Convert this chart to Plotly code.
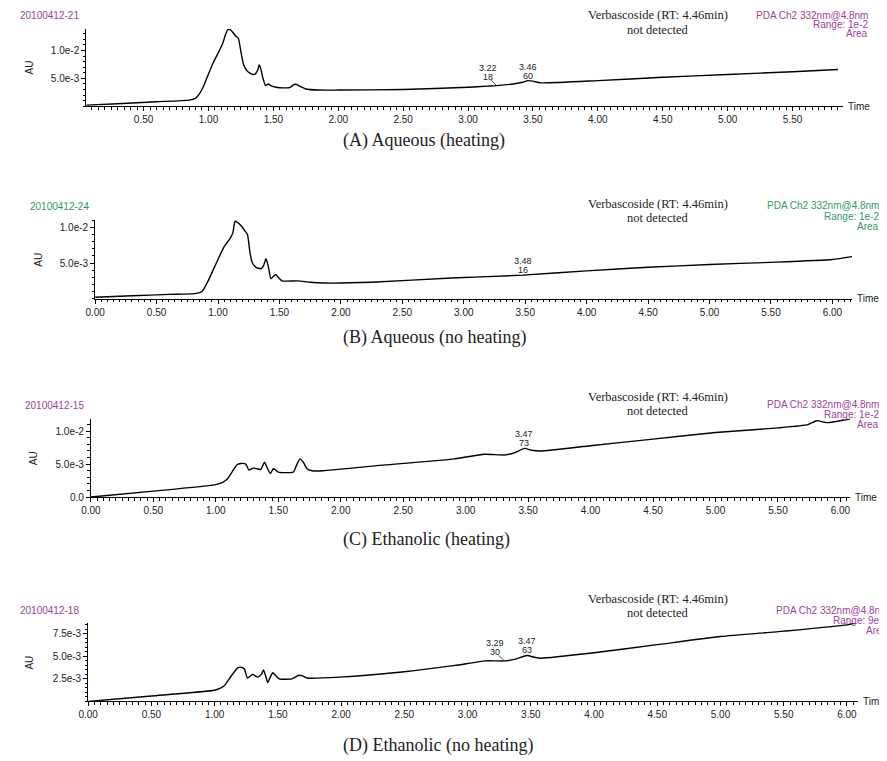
import plotly.graph_objects as go

# page body has an 8px default margin: the figure fills the rest of the 887x761 window
OFF = 8
W, H = 887 - OFF, 761 - OFF

# ---------------- data (time in min, absorbance in AU) ----------------
time_a = [0.06, 0.3, 0.6, 0.85, 0.90, 0.93, 0.96, 1.00, 1.04, 1.08, 1.11, 1.13, 1.15, 1.17, 1.19, 1.21,
          1.23, 1.25, 1.27, 1.30, 1.34, 1.36, 1.38, 1.39, 1.40, 1.42, 1.44, 1.46, 1.48, 1.52, 1.60, 1.63,
          1.66, 1.68, 1.71, 1.75, 1.85, 2.0, 2.5, 3.0, 3.15, 3.22, 3.35, 3.42, 3.46, 3.50, 3.56, 4.0,
          4.5, 5.0, 5.5, 5.85]
au_a = [0.0002, 0.00045, 0.0008, 0.0011, 0.0014, 0.0022, 0.0035, 0.0058, 0.0080, 0.0098, 0.0113, 0.0128,
        0.0138, 0.0137, 0.0132, 0.0126, 0.0122, 0.0098, 0.0075, 0.0063, 0.0057, 0.0058, 0.0065, 0.0074,
        0.0070, 0.0050, 0.0037, 0.0040, 0.0037, 0.0034, 0.0033, 0.0034, 0.0039, 0.0039, 0.0035, 0.0031,
        0.0029, 0.0029, 0.0030, 0.0034, 0.0036, 0.0037, 0.0040, 0.0043, 0.0046, 0.0045, 0.0042, 0.0046,
        0.0052, 0.0057, 0.0062, 0.0066]

time_b = [0.0, 0.3, 0.6, 0.81, 0.87, 0.92, 0.96, 1.00, 1.05, 1.10, 1.12, 1.14, 1.16, 1.19, 1.22, 1.24,
          1.26, 1.28, 1.31, 1.35, 1.37, 1.39, 1.41, 1.43, 1.45, 1.47, 1.49, 1.52, 1.65, 1.75, 1.86, 2.25,
          2.9, 3.48, 4.0, 4.5, 5.0, 5.5, 6.0, 6.16]
au_b = [0.0002, 0.0004, 0.0006, 0.0007, 0.0010, 0.0025, 0.0040, 0.0055, 0.0073, 0.0085, 0.0092, 0.0109,
        0.0107, 0.0102, 0.0095, 0.0090, 0.0065, 0.0050, 0.0044, 0.0042, 0.0046, 0.0056, 0.0045, 0.0028,
        0.0031, 0.0034, 0.0030, 0.0025, 0.0025, 0.0023, 0.0022, 0.0023, 0.0029, 0.0033, 0.0039, 0.0044,
        0.0048, 0.0051, 0.0055, 0.0059]

time_c = [0.0, 0.5, 1.0, 1.05, 1.09, 1.13, 1.17, 1.20, 1.24, 1.265, 1.30, 1.33, 1.36, 1.39, 1.41, 1.437,
          1.46, 1.48, 1.50, 1.62, 1.65, 1.674, 1.70, 1.73, 1.77, 1.86, 2.25, 2.91, 3.15, 3.32, 3.40, 3.47,
          3.53, 3.60, 4.0, 4.5, 5.0, 5.5, 5.74, 5.81, 5.89, 6.08]
au_c = [0.0000, 0.0009, 0.0019, 0.0022, 0.0027, 0.0038, 0.0049, 0.0051, 0.0050, 0.0041, 0.0044, 0.0043,
        0.0042, 0.0053, 0.0045, 0.0036, 0.0043, 0.0041, 0.0038, 0.0038, 0.0050, 0.0058, 0.0053, 0.0043,
        0.0040, 0.0040, 0.0047, 0.0058, 0.0065, 0.0064, 0.0068, 0.0074, 0.0071, 0.0070, 0.0078, 0.0088,
        0.0098, 0.0105, 0.0110, 0.0116, 0.0113, 0.0119]

time_d = [0.0, 0.5, 1.0, 1.05, 1.078, 1.13, 1.18, 1.21, 1.235, 1.26, 1.30, 1.34, 1.37, 1.386, 1.40, 1.42,
          1.44, 1.46, 1.48, 1.51, 1.61, 1.665, 1.70, 1.73, 1.99, 2.5, 2.9, 3.14, 3.22, 3.29, 3.38, 3.47,
          3.53, 3.58, 4.0, 4.5, 5.0, 5.5, 6.0, 6.09]
au_d = [0.0000, 0.0006, 0.00124, 0.0015, 0.00176, 0.0028, 0.0037, 0.0038, 0.0036, 0.0026, 0.0030, 0.0027,
        0.0030, 0.0035, 0.0030, 0.0021, 0.0027, 0.0032, 0.0029, 0.0025, 0.0025, 0.0029, 0.0028, 0.0026,
        0.0027, 0.0033, 0.0040, 0.0045, 0.0045, 0.0045, 0.0047, 0.0051, 0.0049, 0.0048, 0.0054, 0.0063,
        0.0072, 0.0078, 0.0085, 0.0088]

sample_ids = ["20100412-21", "20100412-24", "20100412-15", "20100412-18"]
sample_colors = ["#a0409c", "#2e9a5e", "#a0409c", "#a0409c"]
ranges_text = ["Range: 1e-2", "Range: 1e-2", "Range: 1e-2", "Range: 9e-3"]
captions = ["(A) Aqueous (heating)", "(B) Aqueous (no heating)",
            "(C) Ethanolic (heating)", "(D) Ethanolic (no heating)"]

# integrated peaks: (retention time, area)
peaks_a = [(3.22, 18), (3.46, 60)]
peaks_b = [(3.48, 16)]
peaks_c = [(3.47, 73)]
peaks_d = [(3.29, 30), (3.47, 63)]

y_ticks_a = [0.005, 0.010]
y_ticks_b = [0.005, 0.010]
y_ticks_c = [0.0, 0.005, 0.010]
y_ticks_d = [0.0025, 0.005, 0.0075]
y_tick_text_a = ["5.0e-3", "1.0e-2"]
y_tick_text_b = ["5.0e-3", "1.0e-2"]
y_tick_text_c = ["0.0", "5.0e-3", "1.0e-2"]
y_tick_text_d = ["2.5e-3", "5.0e-3", "7.5e-3"]

# ---------------- layout geometry (window pixels) ----------------
panels = [
    dict(t=time_a, v=au_a, peaks=peaks_a, x0=77, x1=842, y0=29, y1=107, xr=[0.058, 5.885], yr=[0, 0.0139],
         yt=y_ticks_a, ytt=y_tick_text_a, ydt=0.001, ticked=[3.22],
         id_xy=(8, 16), au_xy=(20, 68), verb_y=(15, 30), pda_x=870, pda_y=(16, 25, 34), cap_y=141.5),
    dict(t=time_b, v=au_b, peaks=peaks_b, x0=86, x1=851.7, y0=222, y1=301, xr=[0, 6.16], yr=[0, 0.011],
         yt=y_ticks_b, ytt=y_tick_text_b, ydt=0.001, ticked=[],
         id_xy=(18, 208), au_xy=(29, 262), verb_y=(206, 220), pda_x=881, pda_y=(207, 218, 228), cap_y=340.5),
    dict(t=time_c, v=au_c, peaks=peaks_c, x0=81.7, x1=850, y0=422, y1=501, xr=[0, 6.08], yr=[0, 0.0119],
         yt=y_ticks_c, ytt=y_tick_text_c, ydt=0.001, ticked=[],
         id_xy=(13, 409), au_xy=(24, 462), verb_y=(400, 414), pda_x=881, pda_y=(408, 418, 428), cap_y=544),
    dict(t=time_d, v=au_d, peaks=peaks_d, x0=79, x1=858, y0=628, y1=707, xr=[0, 6.09], yr=[0, 0.0087],
         yt=y_ticks_d, ytt=y_tick_text_d, ydt=0.0005, ticked=[3.29],
         id_xy=(8, 615), au_xy=(20, 668), verb_y=(604, 618), pda_x=890, pda_y=(615, 625, 635), cap_y=751.5),
]

SANS = "Liberation Sans, Arial, sans-serif"
SERIF = "Liberation Serif, Times New Roman, serif"
INK = "#222"


def px_x(p):
    return (p - OFF) / W


def px_y(p):
    return 1 - (p - OFF) / H


fig = go.Figure()
annotations = []
layout_axes = {}

for i, p in enumerate(panels):
    n = "" if i == 0 else str(i + 1)
    xa, ya = "x" + n, "y" + n
    fig.add_trace(go.Scatter(x=p["t"], y=p["v"], mode="lines", xaxis=xa, yaxis=ya,
                             line=dict(color="black", width=1.4, shape="spline", smoothing=0.5),
                             showlegend=False, hoverinfo="skip"))
    layout_axes["xaxis" + n] = dict(
        domain=[px_x(p["x0"]), px_x(p["x1"])], range=p["xr"], anchor=ya,
        showline=True, linecolor="black", linewidth=1, showgrid=False, zeroline=False,
        ticks="outside", ticklen=4, tickcolor="black", tickwidth=1,
        tick0=0, dtick=0.5, tickformat=".2f",
        tickfont=dict(family=SANS, size=10, color=INK),
        minor=dict(ticks="outside", ticklen=2.5, tickcolor="black", tickmode="linear", tick0=0, dtick=0.05),
    )
    layout_axes["yaxis" + n] = dict(
        domain=[px_y(p["y1"]), px_y(p["y0"])], range=p["yr"], anchor=xa,
        showline=True, linecolor="black", linewidth=1, showgrid=False, zeroline=False,
        ticks="outside", ticklen=4, tickcolor="black", tickwidth=1,
        tickmode="array", tickvals=p["yt"], ticktext=p["ytt"],
        tickfont=dict(family=SANS, size=10, color=INK),
        minor=dict(ticks="outside", ticklen=2.5, tickcolor="black", tickmode="linear", tick0=0, dtick=p["ydt"]),
    )
    annotations.append(dict(text="Time", xref=xa + " domain", yref=ya + " domain", x=1, y=0,
                            xanchor="left", yanchor="middle", xshift=3, showarrow=False,
                            font=dict(family=SANS, size=10, color=INK)))
    annotations.append(dict(text="AU", xref="paper", yref="paper", x=px_x(p["au_xy"][0]), y=px_y(p["au_xy"][1]),
                            xanchor="center", yanchor="middle", textangle=-90, showarrow=False,
                            font=dict(family=SANS, size=10, color=INK)))
    annotations.append(dict(text=sample_ids[i], xref="paper", yref="paper", x=px_x(p["id_xy"][0]),
                            y=px_y(p["id_xy"][1]), xanchor="left", yanchor="middle", showarrow=False,
                            font=dict(family=SANS, size=10, color=sample_colors[i])))
    for txt, yy in zip(["Verbascoside (RT: 4.46min)", "not detected"], p["verb_y"]):
        annotations.append(dict(text=txt, xref="paper", yref="paper", x=px_x(655), y=px_y(yy),
                                xanchor="center", yanchor="middle", showarrow=False,
                                font=dict(family=SERIF, size=12.5, color=INK)))
    for txt, yy in zip(["PDA Ch2 332nm@4.8nm", ranges_text[i], "Area"], p["pda_y"]):
        annotations.append(dict(text=txt, xref="paper", yref="paper", x=px_x(p["pda_x"]), y=px_y(yy),
                                xanchor="right", yanchor="middle", showarrow=False,
                                font=dict(family=SANS, size=10, color=sample_colors[i])))
    annotations.append(dict(text=captions[i], xref="paper", yref="paper", x=px_x(335), y=px_y(p["cap_y"]),
                            xanchor="left", yanchor="middle", showarrow=False,
                            font=dict(family=SERIF, size=18, color=INK)))
    # peak labels (retention time over area)
    for rt, area in p["peaks"]:
        idx = min(range(len(p["t"])), key=lambda k: abs(p["t"][k] - rt))
        yv = p["v"][idx]
        if rt in p["ticked"]:
            dx, base = -9, 9
            annotations.append(dict(text="", xref=xa, yref=ya, x=rt, y=yv, showarrow=True,
                                    arrowhead=0, arrowwidth=0.8, arrowcolor=INK, ax=-7, ay=-7,
                                    standoff=0, startstandoff=0))
        else:
            dx, base = 0, 5
        for txt, sh in ((f"{rt:.2f}", base + 9), (str(area), base)):
            annotations.append(dict(text=txt, xref=xa, yref=ya, x=rt, y=yv, showarrow=False,
                                    xanchor="center", yanchor="middle", xshift=dx, yshift=sh,
                                    font=dict(family=SANS, size=9, color=INK)))

fig.update_layout(
    width=W, height=H, margin=dict(l=0, r=0, t=0, b=0),
    paper_bgcolor="white", plot_bgcolor="white",
    annotations=annotations, **layout_axes,
)

fig.write_html("out.html")
